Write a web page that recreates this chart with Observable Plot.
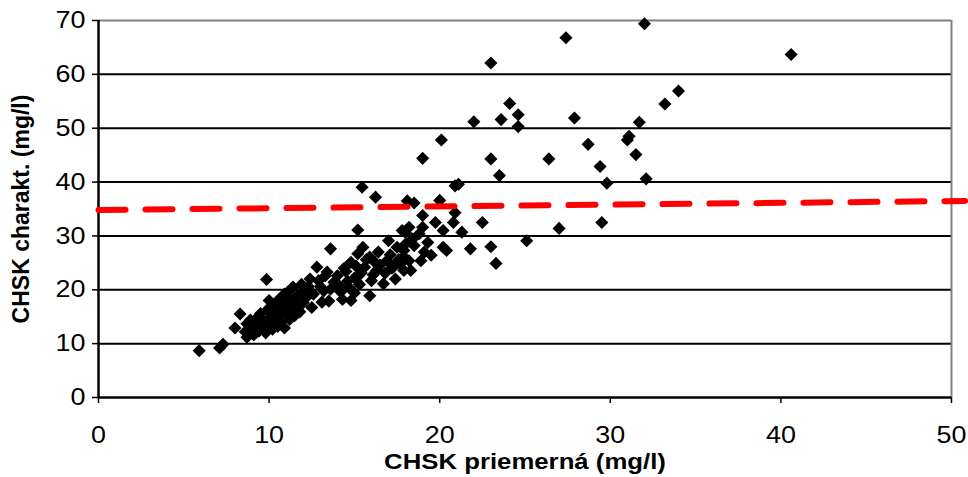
<!DOCTYPE html>
<html>
<head>
<meta charset="utf-8">
<script src="https://cdn.jsdelivr.net/npm/d3@7"></script>
<script src="https://cdn.jsdelivr.net/npm/@observablehq/plot@0.6"></script>
<style>
  html, body { margin: 0; padding: 0; background: #fff; }
  #chart svg { display: block; }
</style>
</head>
<body>
<div id="chart"></div>
<script>
// CHSK priemerná (x) vs CHSK charakt. (y), mg/l
const xValues = [
  5.9, 7.1, 7.3, 8.0, 8.3, 8.7, 8.7, 8.6, 8.9, 9.0,
  9.1, 9.2, 9.3, 9.4, 9.5, 9.6, 9.7, 9.8, 9.85, 9.9,
  10.0, 10.0, 10.1, 10.2, 10.3, 10.3, 10.4, 10.5, 10.6, 10.6,
  10.7, 10.8, 10.9, 10.9, 11.0, 11.1, 11.1, 11.2, 11.3, 11.4,
  11.4, 11.5, 11.6, 11.7, 11.8, 11.9, 12.0, 12.0, 12.2, 12.3,
  12.4, 12.5, 12.6, 12.8, 12.9, 13.0, 13.1, 13.2, 13.3, 13.4,
  13.5, 13.6, 13.6, 13.8, 14.0, 14.1, 14.2, 14.3, 14.4, 14.5,
  14.6, 14.7, 14.8, 14.8, 15.0, 15.0, 15.1, 15.2, 15.2, 15.3,
  15.4, 15.5, 15.45, 15.6, 15.7, 15.9, 15.9, 16.0, 16.1, 16.2,
  16.24, 16.3, 16.4, 16.5, 16.7, 16.8, 16.9, 17.0, 17.1, 17.2,
  17.4, 17.5, 17.3, 17.6, 17.7, 17.8, 17.9, 17.9, 17.9, 18.0,
  18.0, 18.2, 18.2, 18.3, 18.4, 18.5, 18.1, 18.5, 18.8, 18.9,
  19.0, 19.0, 19.1, 19.3, 19.5, 19.0, 19.75, 20.0, 20.1, 20.2,
  20.2, 20.4, 20.9, 20.8, 20.9, 21.1, 21.3, 21.8, 22.5, 22.0,
  23.0, 23.0, 23.5, 23.0, 23.3, 23.6, 24.1, 24.6, 24.6, 25.1,
  26.4, 27.0, 27.4, 27.9, 28.7, 29.4, 29.5, 29.8, 31.0, 31.1,
  31.5, 31.7, 32.0, 32.1, 33.2, 34.0, 40.6
];
const yValues = [
  8.7, 9.2, 9.9, 12.9, 15.5, 11.2, 13.7, 12.2, 14.4, 12.8,
  11.6, 13.4, 14.8, 12.3, 15.6, 13.2, 14.2, 12.0, 21.9, 16.3,
  13.6, 18.0, 15.0, 12.7, 17.0, 14.3, 16.0, 13.2, 15.2, 18.3,
  14.0, 16.8, 12.9, 19.2, 15.6, 17.6, 19.6, 14.5, 16.4, 20.5,
  18.2, 15.2, 17.0, 19.0, 15.9, 21.0, 19.9, 17.6, 18.6, 20.6,
  22.0, 16.7, 19.2, 24.2, 21.7, 20.6, 17.7, 19.8, 22.6, 23.3,
  17.9, 27.6, 20.1, 21.4, 22.6, 20.8, 19.6, 18.2, 24.0, 23.4,
  21.6, 20.4, 18.0, 25.1, 22.2, 19.4, 24.4, 26.7, 31.1, 21.0,
  23.1, 27.9, 39.05, 24.2, 25.6, 26.1, 18.9, 21.7, 22.8, 25.1,
  37.2, 23.6, 27.0, 24.6, 21.1, 23.1, 25.4, 29.1, 26.5, 24.0,
  22.0, 27.9, 24.3, 25.6, 24.8, 31.0, 27.3, 23.6, 26.1, 30.6,
  28.5, 25.4, 31.6, 23.6, 29.4, 28.2, 36.5, 36.1, 30.4, 25.4,
  33.8, 31.6, 27.0, 28.8, 26.4, 44.4, 32.5, 36.6, 47.8, 31.0,
  27.9, 27.3, 34.3, 32.5, 39.3, 39.6, 30.7, 27.6, 32.5, 51.2,
  62.1, 44.3, 41.2, 28.0, 24.9, 51.6, 54.6, 52.5, 50.3, 29.1,
  44.3, 31.4, 66.8, 51.9, 47.0, 42.9, 32.5, 39.8, 47.8, 48.5,
  45.1, 51.1, 69.4, 40.6, 54.5, 56.9, 63.7
];

// red dashed reference line (endpoints)
const limitX = [0, 50.8];
const limitY = [34.8, 36.5];

const xTicks = [0, 10, 20, 30, 40, 50];
const yTicks = [0, 10, 20, 30, 40, 50, 60, 70];
const gridY = [10, 20, 30, 40, 50, 60];
const xTitle = "CHSK priemerná (mg/l)";
const yTitle = "CHSK charakt. (mg/l)";

const points = xValues.map((x, i) => ({x, y: yValues[i]}));
const limit = limitX.map((x, i) => ({x, y: limitY[i]}));

const chart = Plot.plot({
  width: 968,
  height: 477,
  marginLeft: 98,
  marginRight: 17,
  marginTop: 20,
  marginBottom: 80,
  style: {fontFamily: "'Liberation Sans', Arial, sans-serif", color: "#000", background: "#fff", overflow: "visible"},
  x: {domain: [0, 50]},
  y: {domain: [0, 70]},
  marks: [
    Plot.ruleY(gridY, {stroke: "#000", strokeWidth: 2}),
    Plot.ruleY([70], {stroke: "#808080", strokeWidth: 2}),
    Plot.ruleX([50], {stroke: "#808080", strokeWidth: 2}),
    Plot.ruleX([0], {stroke: "#000", strokeWidth: 2.5}),
    Plot.ruleY([0], {stroke: "#000", strokeWidth: 2.5}),
    Plot.axisX({ticks: xTicks, tickSize: 6, tickPadding: 22, fontSize: 24, label: null, strokeWidth: 1.5}),
    Plot.axisY({ticks: yTicks, tickSize: 6, tickPadding: 7, fontSize: 24, label: null, strokeWidth: 1.5}),
    Plot.dot(points, {x: "x", y: "y", symbol: "diamond2", r: 5.9, fill: "#000", stroke: "none"}),
    Plot.line(limit, {x: "x", y: "y", stroke: "#ff0000", strokeWidth: 6, strokeDasharray: "27,20"}),
    Plot.text([xTitle], {frameAnchor: "bottom", dy: 64, lineAnchor: "middle", textAnchor: "middle", fontSize: 23, fontWeight: "bold", fill: "#000"}),
    Plot.text([yTitle], {frameAnchor: "left", dx: -77, rotate: -90, textAnchor: "middle", lineAnchor: "middle", fontSize: 23, fontWeight: "bold", fill: "#000"})
  ]
});

document.getElementById("chart").appendChild(chart);

// horizontally stretched lettering as in the reference
d3.select(chart).selectAll("text").each(function() {
  const t = this.getAttribute("transform") || "";
  if (t.includes("rotate")) return;
  this.setAttribute("transform", (t ? t + " " : "") + "scale(1.12,1)");
});
</script>
</body>
</html>
